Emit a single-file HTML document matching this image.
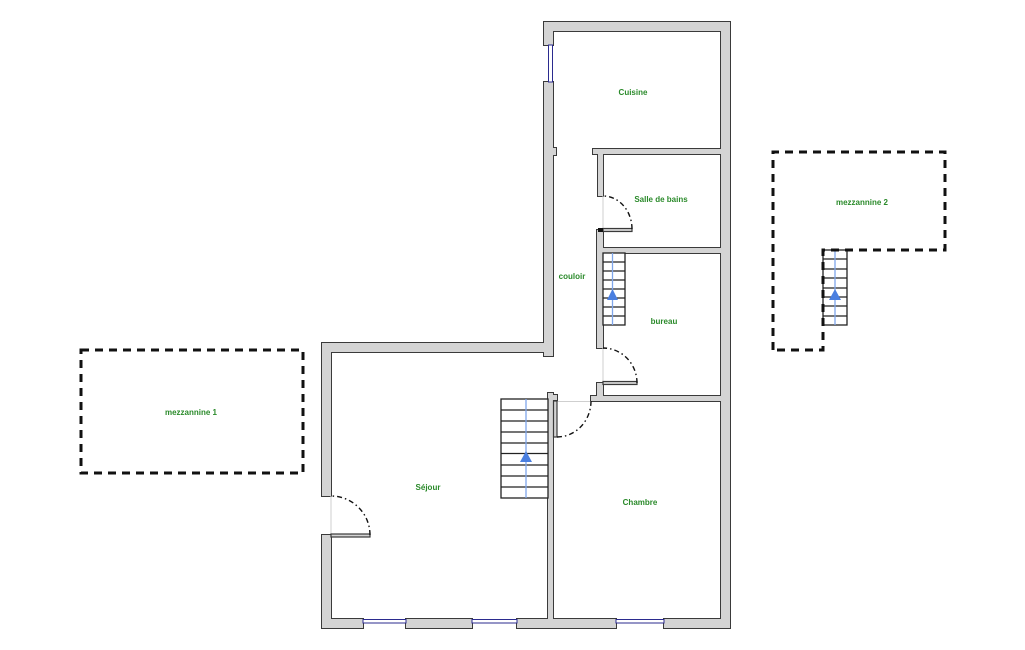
<!DOCTYPE html>
<html><head><meta charset="utf-8"><style>
html,body{margin:0;padding:0;background:#fff;}
svg{display:block;}
text{font-family:"Liberation Sans",sans-serif;font-weight:bold;font-size:8px;fill:#2a8a2a;text-anchor:middle;}
</style></head><body>
<svg width="1025" height="650" viewBox="0 0 1025 650" xmlns="http://www.w3.org/2000/svg">
<rect width="1025" height="650" fill="#fff"/>
<defs>
<g id="walls">
<rect x="544" y="22" width="186" height="9"/>
<rect x="721" y="22" width="9" height="606"/>
<rect x="322" y="619" width="41" height="9"/>
<rect x="406" y="619" width="66" height="9"/>
<rect x="517" y="619" width="99" height="9"/>
<rect x="664" y="619" width="66" height="9"/>
<rect x="322" y="343" width="9" height="153"/>
<rect x="322" y="535" width="9" height="93"/>
<rect x="322" y="343" width="231" height="9"/>
<rect x="544" y="22" width="9" height="23"/>
<rect x="544" y="82" width="9" height="274"/>
<rect x="552" y="148" width="4" height="7"/>
<rect x="593" y="149" width="128" height="5"/>
<rect x="598" y="149" width="5" height="47"/>
<rect x="597" y="230" width="6" height="118"/>
<rect x="603" y="248" width="118" height="5"/>
<rect x="591" y="396" width="130" height="5"/>
<rect x="597" y="383" width="6" height="18"/>
<rect x="548" y="393" width="5" height="226"/>
<rect x="552" y="395" width="5" height="5"/>
</g>
</defs>
<!-- walls: outline then fill -->
<use href="#walls" fill="#d4d4d4" stroke="#3a3a3a" stroke-width="2"/>
<use href="#walls" fill="#d4d4d4" stroke="none"/>

<!-- windows -->
<g fill="#fff" stroke="#2b2b8f" stroke-width="1">
<rect x="363" y="619.5" width="43" height="3.5"/>
<rect x="472" y="619.5" width="45" height="3.5"/>
<rect x="616" y="619.5" width="48" height="3.5"/>
<rect x="548.5" y="45" width="4" height="37"/>
</g>

<!-- thresholds -->
<g stroke="#cfcfcf" stroke-width="1">
<line x1="331" y1="496" x2="331" y2="535"/>
<line x1="603" y1="348" x2="603" y2="383"/>
<line x1="603" y1="196" x2="603" y2="229"/>
<line x1="557" y1="401.5" x2="591" y2="401.5"/>
</g>

<!-- door leaves -->
<g fill="#d4d4d4" stroke="#3a3a3a" stroke-width="1.2">
<rect x="553.5" y="401" width="3.5" height="36"/>
<rect x="603" y="381.5" width="34" height="3"/>
<rect x="603" y="228.5" width="29" height="3"/>
<rect x="331" y="534" width="39" height="3"/>
</g>
<rect x="598" y="228" width="5" height="4" fill="#111"/>

<!-- door arcs -->
<g fill="none" stroke="#111" stroke-width="1.4" stroke-dasharray="5 3 1.5 3">
<path d="M370,535 A39,39 0 0 0 331,496"/>
<path d="M632,229 A29,33 0 0 0 603,196"/>
<path d="M637,383 A34,35 0 0 0 603,348"/>
<path d="M557,437 A34,36 0 0 0 591,401"/>
</g>

<!-- stairs sejour -->
<rect x="501" y="399" width="47" height="99" fill="#fff" stroke="#222" stroke-width="1.3"/>
<g stroke="#222" stroke-width="1.2">
<line x1="501" y1="410" x2="548" y2="410"/>
<line x1="501" y1="421" x2="548" y2="421"/>
<line x1="501" y1="432" x2="548" y2="432"/>
<line x1="501" y1="443" x2="548" y2="443"/>
<line x1="501" y1="453.5" x2="548" y2="453.5"/>
<line x1="501" y1="465" x2="548" y2="465"/>
<line x1="501" y1="476" x2="548" y2="476"/>
<line x1="501" y1="487" x2="548" y2="487"/>
</g>
<line x1="526" y1="399" x2="526" y2="498" stroke="#7fa6ea" stroke-width="1.3"/>
<polygon points="526,451 520,462 532,462" fill="#4a7fe0"/>

<!-- stairs bureau -->
<rect x="603" y="253" width="22" height="72" fill="#fff" stroke="#222" stroke-width="1.3"/>
<g stroke="#222" stroke-width="1.2">
<line x1="603" y1="262" x2="625" y2="262"/>
<line x1="603" y1="271" x2="625" y2="271"/>
<line x1="603" y1="280" x2="625" y2="280"/>
<line x1="603" y1="289" x2="625" y2="289"/>
<line x1="603" y1="298" x2="625" y2="298"/>
<line x1="603" y1="307" x2="625" y2="307"/>
<line x1="603" y1="316" x2="625" y2="316"/>
</g>
<line x1="612.5" y1="253" x2="612.5" y2="325" stroke="#7fa6ea" stroke-width="1.3"/>
<polygon points="612.5,289 607,300 618,300" fill="#4a7fe0"/>

<!-- mezzanine 1 -->
<rect x="81" y="350" width="222" height="123" fill="none" stroke="#111" stroke-width="3" stroke-dasharray="8 6"/>

<!-- mezzanine 2 -->
<rect x="823" y="250" width="24" height="75" fill="#fff" stroke="#222" stroke-width="1.3"/>
<g stroke="#222" stroke-width="1.2">
<line x1="823" y1="259" x2="847" y2="259"/>
<line x1="823" y1="269" x2="847" y2="269"/>
<line x1="823" y1="278" x2="847" y2="278"/>
<line x1="823" y1="288" x2="847" y2="288"/>
<line x1="823" y1="297" x2="847" y2="297"/>
<line x1="823" y1="306" x2="847" y2="306"/>
<line x1="823" y1="316" x2="847" y2="316"/>
</g>
<line x1="835" y1="250" x2="835" y2="325" stroke="#7fa6ea" stroke-width="1.3"/>
<polygon points="835,289 829,300 841,300" fill="#4a7fe0"/>
<path d="M773,350 L773,152 L945,152 L945,250 L823,250 L823,350 Z" fill="none" stroke="#111" stroke-width="3" stroke-dasharray="8 6"/>

<!-- labels -->
<text x="633" y="95">Cuisine</text>
<text x="661" y="202">Salle de bains</text>
<text x="572" y="279">couloir</text>
<text x="664" y="324">bureau</text>
<text x="428" y="490">Séjour</text>
<text x="640" y="505">Chambre</text>
<text x="191" y="415">mezzannine 1</text>
<text x="862" y="205">mezzannine 2</text>
</svg>
</body></html>
